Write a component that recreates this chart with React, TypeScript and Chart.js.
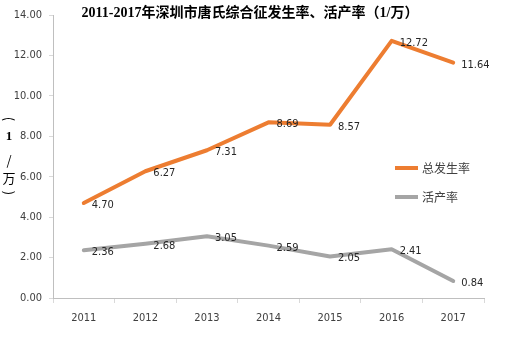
import React, { useEffect, useRef } from "react";
import { Chart, registerables } from "chart.js";

Chart.register(...registerables);

const years = ["2011", "2012", "2013", "2014", "2015", "2016", "2017"];
const incidence = [4.7, 6.27, 7.31, 8.69, 8.57, 12.72, 11.64];
const liveBirth = [2.36, 2.68, 3.05, 2.59, 2.05, 2.41, 0.84];
const seriesNames = ["总发生率", "活产率"];
const titleText = "2011-2017年深圳市唐氏综合征发生率、活产率（1/万）";
const yTitleChars = ["(", "1", "/", "万", ")"];

const ORANGE = "#ED7D31";
const GRAY = "#A5A5A5";
const NUM_FONT = '"DejaVu Sans Condensed", "Liberation Sans Narrow", sans-serif';
const CJK_FONT = '"Noto Sans CJK SC", "Noto Sans", sans-serif';

const overlayPlugin = {
  id: "overlay",
  afterDatasetsDraw(chart: any) {
    const ctx = chart.ctx;
    const area = chart.chartArea;
    ctx.save();
    // data labels
    ctx.font = `11px ${NUM_FONT}`;
    ctx.fillStyle = "#262626";
    ctx.textAlign = "left";
    ctx.textBaseline = "middle";
    chart.data.datasets.forEach((ds: any, i: number) => {
      const meta = chart.getDatasetMeta(i);
      meta.data.forEach((pt: any, j: number) => {
        ctx.fillText(Number(ds.data[j]).toFixed(2), pt.x + 8, pt.y + 2);
      });
    });
    // title
    ctx.font = `bold 14px "Liberation Serif", "Noto Sans CJK SC", serif`;
    ctx.fillStyle = "#000";
    ctx.textAlign = "center";
    ctx.fillText(titleText, 250, 13);
    // legend
    const legendX = area.left + 342;
    const legendYs = [168, 197];
    chart.data.datasets.forEach((ds: any, i: number) => {
      ctx.strokeStyle = ds.borderColor;
      ctx.lineWidth = 4;
      ctx.beginPath();
      ctx.moveTo(legendX, legendYs[i]);
      ctx.lineTo(legendX + 23, legendYs[i]);
      ctx.stroke();
      ctx.font = `12px ${CJK_FONT}`;
      ctx.fillStyle = "#404040";
      ctx.textAlign = "left";
      ctx.fillText(ds.label, legendX + 27, legendYs[i]);
    });
    // y axis title (vertical, parentheses rotated)
    ctx.fillStyle = "#000";
    ctx.textAlign = "center";
    const ys = [119, 137, 160, 178, 193];
    yTitleChars.forEach((c, k) => {
      if (c === "(" || c === ")") {
        ctx.save();
        ctx.translate(9, ys[k]);
        ctx.rotate(Math.PI / 2);
        ctx.font = `13px ${CJK_FONT}`;
        ctx.fillText(c, 0, 0);
        ctx.restore();
      } else {
        ctx.font = c === "1" ? `bold 13px "Liberation Serif", serif` : `13px ${CJK_FONT}`;
        ctx.fillText(c, 9, ys[k]);
      }
    });
    ctx.restore();
  },
};

export default function App() {
  const ref = useRef<HTMLCanvasElement | null>(null);
  useEffect(() => {
    document.body.style.margin = "0";
    const chart = new Chart(ref.current as HTMLCanvasElement, {
      type: "line",
      data: {
        labels: years,
        datasets: [
          {
            label: seriesNames[0],
            data: incidence,
            borderColor: ORANGE,
            backgroundColor: ORANGE,
            borderWidth: 4,
            pointRadius: 0,
            tension: 0,
            borderCapStyle: "round",
            borderJoinStyle: "round",
          },
          {
            label: seriesNames[1],
            data: liveBirth,
            borderColor: GRAY,
            backgroundColor: GRAY,
            borderWidth: 4,
            pointRadius: 0,
            tension: 0,
            borderCapStyle: "round",
            borderJoinStyle: "round",
          },
        ],
      },
      options: {
        animation: false,
        responsive: false,
        maintainAspectRatio: false,
        layout: { padding: { left: 0, right: 31, top: 15, bottom: 0 } },
        plugins: {
          legend: { display: false },
          tooltip: { enabled: false },
          title: { display: false },
        },
        scales: {
          x: {
            offset: true,
            afterFit: (s: any) => {
              s.height = 44;
            },
            grid: {
              offset: true,
              drawOnChartArea: false,
              tickLength: 5,
              color: "#D9D9D9",
            },
            border: { color: "#BFBFBF" },
            ticks: {
              color: "#404040",
              font: { family: NUM_FONT, size: 11 },
              padding: 9,
              maxRotation: 0,
            },
          },
          y: {
            min: 0,
            max: 14,
            afterFit: (s: any) => {
              s.width = 53;
            },
            grid: {
              drawOnChartArea: false,
              tickLength: 4,
              color: "#D9D9D9",
            },
            border: { color: "#BFBFBF" },
            ticks: {
              stepSize: 2,
              color: "#404040",
              font: { family: NUM_FONT, size: 11 },
              padding: 7,
              callback: (v: any) => Number(v).toFixed(2),
            },
          },
        },
      },
      plugins: [overlayPlugin],
    });
    return () => chart.destroy();
  }, []);
  return (
    <div style={{ width: 515, height: 342 }}>
      <canvas ref={ref} width={515} height={342} style={{ width: 515, height: 342 }} />
    </div>
  );
}
